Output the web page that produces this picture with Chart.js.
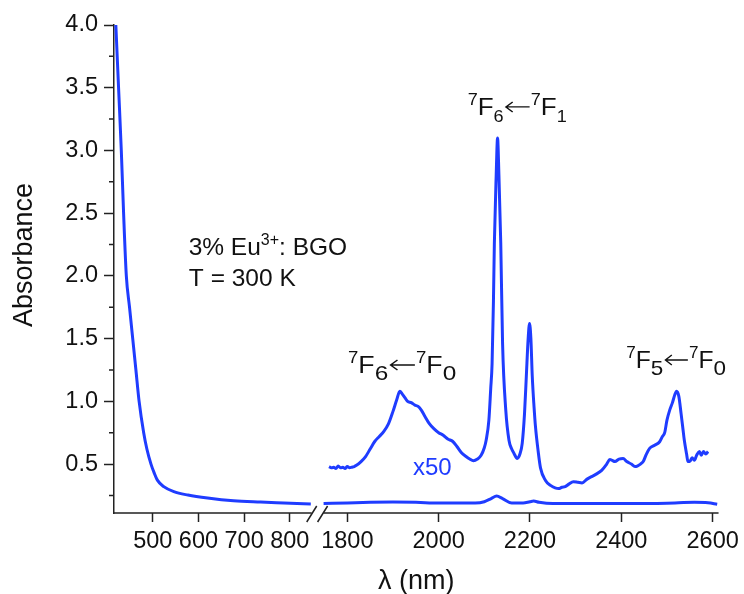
<!DOCTYPE html>
<html>
<head>
<meta charset="utf-8">
<script src="https://cdn.jsdelivr.net/npm/chart.js@4.4.0/dist/chart.umd.min.js"></script>
<style>
html, body { margin: 0; padding: 0; background: #fff; }
</style>
</head>
<body>
<canvas id="chart" width="744" height="594"></canvas>
<script>
// UV edge (left part of the broken axis)
const UV_WAVELENGTH = [419, 425, 431, 436, 442, 449, 456, 463, 470, 480, 487, 496, 503, 510, 524, 546, 577, 620, 677, 736, 787, 846];
const UV_ABSORBANCE = [4.00, 3.50, 3.00, 2.50, 2.00, 1.75, 1.50, 1.25, 1.00, 0.75, 0.62, 0.50, 0.43, 0.372, 0.32, 0.28, 0.253, 0.229, 0.207, 0.197, 0.19, 0.182];

// IR spectrum, as measured
const IR_WAVELENGTH = [1748, 1800, 1850, 1900, 1950, 2000, 2050, 2080, 2100, 2115, 2127, 2140, 2160, 2185, 2200, 2208, 2220, 2250, 2300, 2400, 2500, 2560, 2590, 2610];
const IR_ABSORBANCE = [0.185, 0.19, 0.195, 0.197, 0.195, 0.19, 0.19, 0.19, 0.20, 0.225, 0.245, 0.225, 0.19, 0.19, 0.20, 0.205, 0.195, 0.185, 0.185, 0.185, 0.188, 0.195, 0.192, 0.18];

// IR spectrum, magnified x50 and offset
const IR_X50_WAVELENGTH = [1760, 1765, 1770, 1775, 1780, 1785, 1790, 1795, 1800, 1805, 1810, 1815, 1820, 1830, 1840, 1850, 1860, 1870, 1880, 1890, 1900, 1908, 1915, 1920, 1926, 1932, 1940, 1948, 1955, 1962, 1970, 1980, 1990, 2000, 2010, 2020, 2031, 2040, 2050, 2060, 2068, 2076, 2085, 2093, 2100, 2104, 2110, 2114, 2117, 2120, 2122, 2126, 2129, 2132, 2136, 2140, 2147, 2154, 2160, 2165, 2172, 2178, 2183, 2188, 2192, 2196, 2199, 2202, 2205, 2209, 2212, 2218, 2223, 2234, 2245, 2255, 2263, 2270, 2277, 2285, 2295, 2305, 2314, 2325, 2335, 2345, 2357, 2368, 2375, 2380, 2386, 2395, 2404, 2412, 2422, 2430, 2435, 2442, 2448, 2455, 2462, 2473, 2484, 2490, 2495, 2500, 2506, 2512, 2517, 2521, 2526, 2531, 2535, 2538, 2543, 2546, 2550, 2555, 2560, 2565, 2571, 2575, 2580, 2585, 2590];
const IR_X50_ABSORBANCE = [0.48, 0.47, 0.475, 0.465, 0.485, 0.47, 0.475, 0.465, 0.48, 0.47, 0.475, 0.48, 0.49, 0.52, 0.56, 0.62, 0.68, 0.72, 0.76, 0.82, 0.92, 1.01, 1.08, 1.06, 1.03, 1.00, 0.99, 0.97, 0.96, 0.93, 0.88, 0.82, 0.78, 0.75, 0.73, 0.70, 0.68, 0.64, 0.59, 0.56, 0.54, 0.526, 0.54, 0.57, 0.63, 0.69, 0.85, 1.1, 1.3, 1.8, 2.26, 2.8, 3.1, 2.8, 2.26, 1.46, 0.93, 0.69, 0.62, 0.585, 0.545, 0.58, 0.665, 0.9, 1.2, 1.5, 1.62, 1.5, 1.2, 0.95, 0.8, 0.6, 0.47, 0.37, 0.33, 0.31, 0.305, 0.315, 0.32, 0.34, 0.36, 0.355, 0.35, 0.38, 0.40, 0.42, 0.45, 0.50, 0.537, 0.53, 0.52, 0.54, 0.545, 0.52, 0.50, 0.48, 0.484, 0.50, 0.52, 0.58, 0.625, 0.65, 0.678, 0.72, 0.75, 0.85, 0.93, 0.99, 1.05, 1.08, 1.04, 0.90, 0.78, 0.69, 0.58, 0.52, 0.52, 0.55, 0.53, 0.57, 0.60, 0.57, 0.60, 0.58, 0.60];

const X_TICKS = [500, 600, 700, 800, 1800, 2000, 2200, 2400, 2600];
const Y_TICKS = [0.25, 0.5, 0.75, 1.0, 1.25, 1.5, 1.75, 2.0, 2.25, 2.5, 2.75, 3.0, 3.25, 3.5, 3.75, 4.0];

// broken x axis: [X_MIN, BREAK_START] then [BREAK_END, X_MAX]
const X_MIN = 415;
const BREAK_START = 848;
const BREAK_END = 1748;
const X_MAX = 2613;
const GAP = 26;
const SHIFT = BREAK_END - BREAK_START - GAP;

const BLUE = '#1f3cff';
const INK = '#111';
const FONT = "'Liberation Sans', Arial, 'DejaVu Sans', sans-serif";

function compress(l) { return l <= BREAK_START ? l : l - SHIFT; }
function expand(v) { return v <= BREAK_START ? v : v + SHIFT; }
function isMajor(v) { return Math.abs(v * 2 - Math.round(v * 2)) < 1e-6; }
function toPoints(xs, ys) { return xs.map((x, i) => ({ x: compress(x), y: ys[i] })); }

const ARROW = { arrow: true };
// text labels: centre (wavelength) and baseline (absorbance), plus runs
const LABELS = [
    { at: [752, 2.167], color: INK, size: 24.5, sx: 1, runs: [{ t: '3% Eu' }, { t: '3+', sup: true }, { t: ': BGO' }] },
    { at: [696, 1.92], color: INK, size: 24.5, sx: 1, runs: [{ t: 'T = 300 K' }] },
    { at: [2172, 3.283], color: INK, size: 23, sx: 1.13, runs: [{ t: '7', sup: true }, { t: 'F' }, { t: '6', sub: true }, ARROW, { t: '7', sup: true }, { t: 'F' }, { t: '1', sub: true }] },
    { at: [1920, 1.226], color: INK, size: 23, sx: 1.16, runs: [{ t: '7', sup: true }, { t: 'F' }, { t: '6', sub: true, big: true }, ARROW, { t: '7', sup: true }, { t: 'F' }, { t: '0', sub: true, big: true }] },
    { at: [2520, 1.266], color: INK, size: 23, sx: 1.07, runs: [{ t: '7', sup: true }, { t: 'F' }, { t: '5', sub: true, big: true }, ARROW, { t: '7', sup: true }, { t: 'F' }, { t: '0', sub: true, big: true }] },
    { at: [1986, 0.412], color: BLUE, size: 24, sx: 1, runs: [{ t: 'x50' }] },
];

function runStyle(r, size) {
    if (r.sup) return { size: 16, dy: -10 };
    if (r.sub) return { size: r.big ? 21 : 16, dy: 7 };
    return { size: size, dy: 0 };
}

function drawLabel(ctx, lab, cx, base) {
    const widths = lab.runs.map(r => {
        if (r.arrow) return 24;
        ctx.font = runStyle(r, lab.size).size + 'px ' + FONT;
        return ctx.measureText(r.t).width;
    });
    const total = widths.reduce((a, b) => a + b, 0);
    ctx.save();
    ctx.translate(cx, base);
    ctx.scale(lab.sx, 1);
    ctx.fillStyle = lab.color;
    ctx.strokeStyle = lab.color;
    ctx.lineWidth = 1.3;
    let px = -total / 2;
    lab.runs.forEach((r, i) => {
        if (r.arrow) {
            const ay = -8;
            ctx.beginPath();
            ctx.moveTo(px + 2, ay);
            ctx.lineTo(px + widths[i] - 1, ay);
            ctx.moveTo(px + 8, ay - 5);
            ctx.lineTo(px + 2, ay);
            ctx.lineTo(px + 8, ay + 5);
            ctx.stroke();
        } else {
            const st = runStyle(r, lab.size);
            ctx.font = st.size + 'px ' + FONT;
            ctx.fillText(r.t, px, st.dy);
        }
        px += widths[i];
    });
    ctx.restore();
}

const extras = {
    id: 'extras',
    afterDraw(chart) {
        const { ctx, chartArea, scales } = chart;
        const x = scales.x, y = scales.y;
        const b = chartArea.bottom;
        ctx.save();
        ctx.strokeStyle = '#222';
        ctx.lineWidth = 1.5;

        // broken x axis line
        const g0 = x.getPixelForValue(BREAK_START);
        const g1 = x.getPixelForValue(compress(BREAK_END));
        ctx.beginPath();
        ctx.moveTo(chartArea.left - 0.75, b);
        ctx.lineTo(g0, b);
        ctx.moveTo(g1, b);
        ctx.lineTo(chartArea.right, b);
        ctx.stroke();

        // break marks
        ctx.beginPath();
        ctx.moveTo(g0 - 5, b + 9);
        ctx.lineTo(g0 + 5, b - 7);
        ctx.moveTo(g1 - 6, b + 9);
        ctx.lineTo(g1 + 4, b - 7);
        ctx.stroke();

        // minor y ticks
        ctx.beginPath();
        Y_TICKS.filter(v => !isMajor(v)).forEach(v => {
            const py = y.getPixelForValue(v);
            ctx.moveTo(chartArea.left - 5, py);
            ctx.lineTo(chartArea.left, py);
        });
        ctx.stroke();

        // y axis title
        ctx.save();
        ctx.translate(32, y.getPixelForValue(2.167));
        ctx.rotate(-Math.PI / 2);
        ctx.fillStyle = INK;
        ctx.font = '27px ' + FONT;
        ctx.textAlign = 'center';
        ctx.textBaseline = 'alphabetic';
        ctx.fillText('Absorbance', 0, 0);
        ctx.restore();

        // labels
        ctx.textBaseline = 'alphabetic';
        ctx.textAlign = 'left';
        LABELS.forEach(lab => {
            drawLabel(ctx, lab, x.getPixelForValue(compress(lab.at[0])), y.getPixelForValue(lab.at[1]));
        });
        ctx.restore();
    }
};

new Chart(document.getElementById('chart'), {
    type: 'line',
    data: {
        datasets: [
            { label: 'UV', data: toPoints(UV_WAVELENGTH, UV_ABSORBANCE) },
            { label: 'IR', data: toPoints(IR_WAVELENGTH, IR_ABSORBANCE) },
            { label: 'IR x50', data: toPoints(IR_X50_WAVELENGTH, IR_X50_ABSORBANCE) },
        ].map(d => Object.assign(d, {
            borderColor: BLUE,
            borderWidth: 3,
            pointRadius: 0,
            fill: false,
            cubicInterpolationMode: 'monotone',
        })),
    },
    options: {
        responsive: false,
        animation: false,
        layout: { padding: { top: 25, right: 24, bottom: 0, left: 0 } },
        plugins: { legend: { display: false }, tooltip: { enabled: false } },
        scales: {
            x: {
                type: 'linear',
                min: X_MIN,
                max: compress(X_MAX),
                afterBuildTicks: s => { s.ticks = X_TICKS.map(l => ({ value: compress(l) })); },
                afterFit: s => { s.height = 81; },
                border: { display: false },
                grid: { drawOnChartArea: false, drawTicks: true, tickLength: 9, tickColor: '#222', tickWidth: 1.5 },
                ticks: {
                    autoSkip: false,
                    maxRotation: 0,
                    padding: 5,
                    color: INK,
                    font: { family: FONT, size: 23.5 },
                    callback: v => String(Math.round(expand(v))),
                },
                title: {
                    display: true,
                    text: '\u03bb (nm)',
                    color: INK,
                    padding: { top: 0, bottom: 0 },
                    font: { family: FONT, size: 27, lineHeight: 0.9 },
                },
            },
            y: {
                type: 'linear',
                min: 0.11,
                max: 4.0,
                afterBuildTicks: s => { s.ticks = Y_TICKS.map(v => ({ value: v })); },
                afterFit: s => { s.width = 114; },
                border: { display: true, color: '#222', width: 1.5 },
                grid: {
                    drawOnChartArea: false,
                    drawTicks: true,
                    tickLength: 10,
                    tickWidth: 1.5,
                    tickColor: c => isMajor(c.tick.value) ? '#222' : 'rgba(0,0,0,0)',
                },
                ticks: {
                    autoSkip: false,
                    padding: 6,
                    color: INK,
                    font: { family: FONT, size: 23.5 },
                    callback: v => isMajor(v) ? v.toFixed(1) : '',
                },
                title: { display: false },
            },
        },
    },
    plugins: [extras],
});
</script>
</body>
</html>
